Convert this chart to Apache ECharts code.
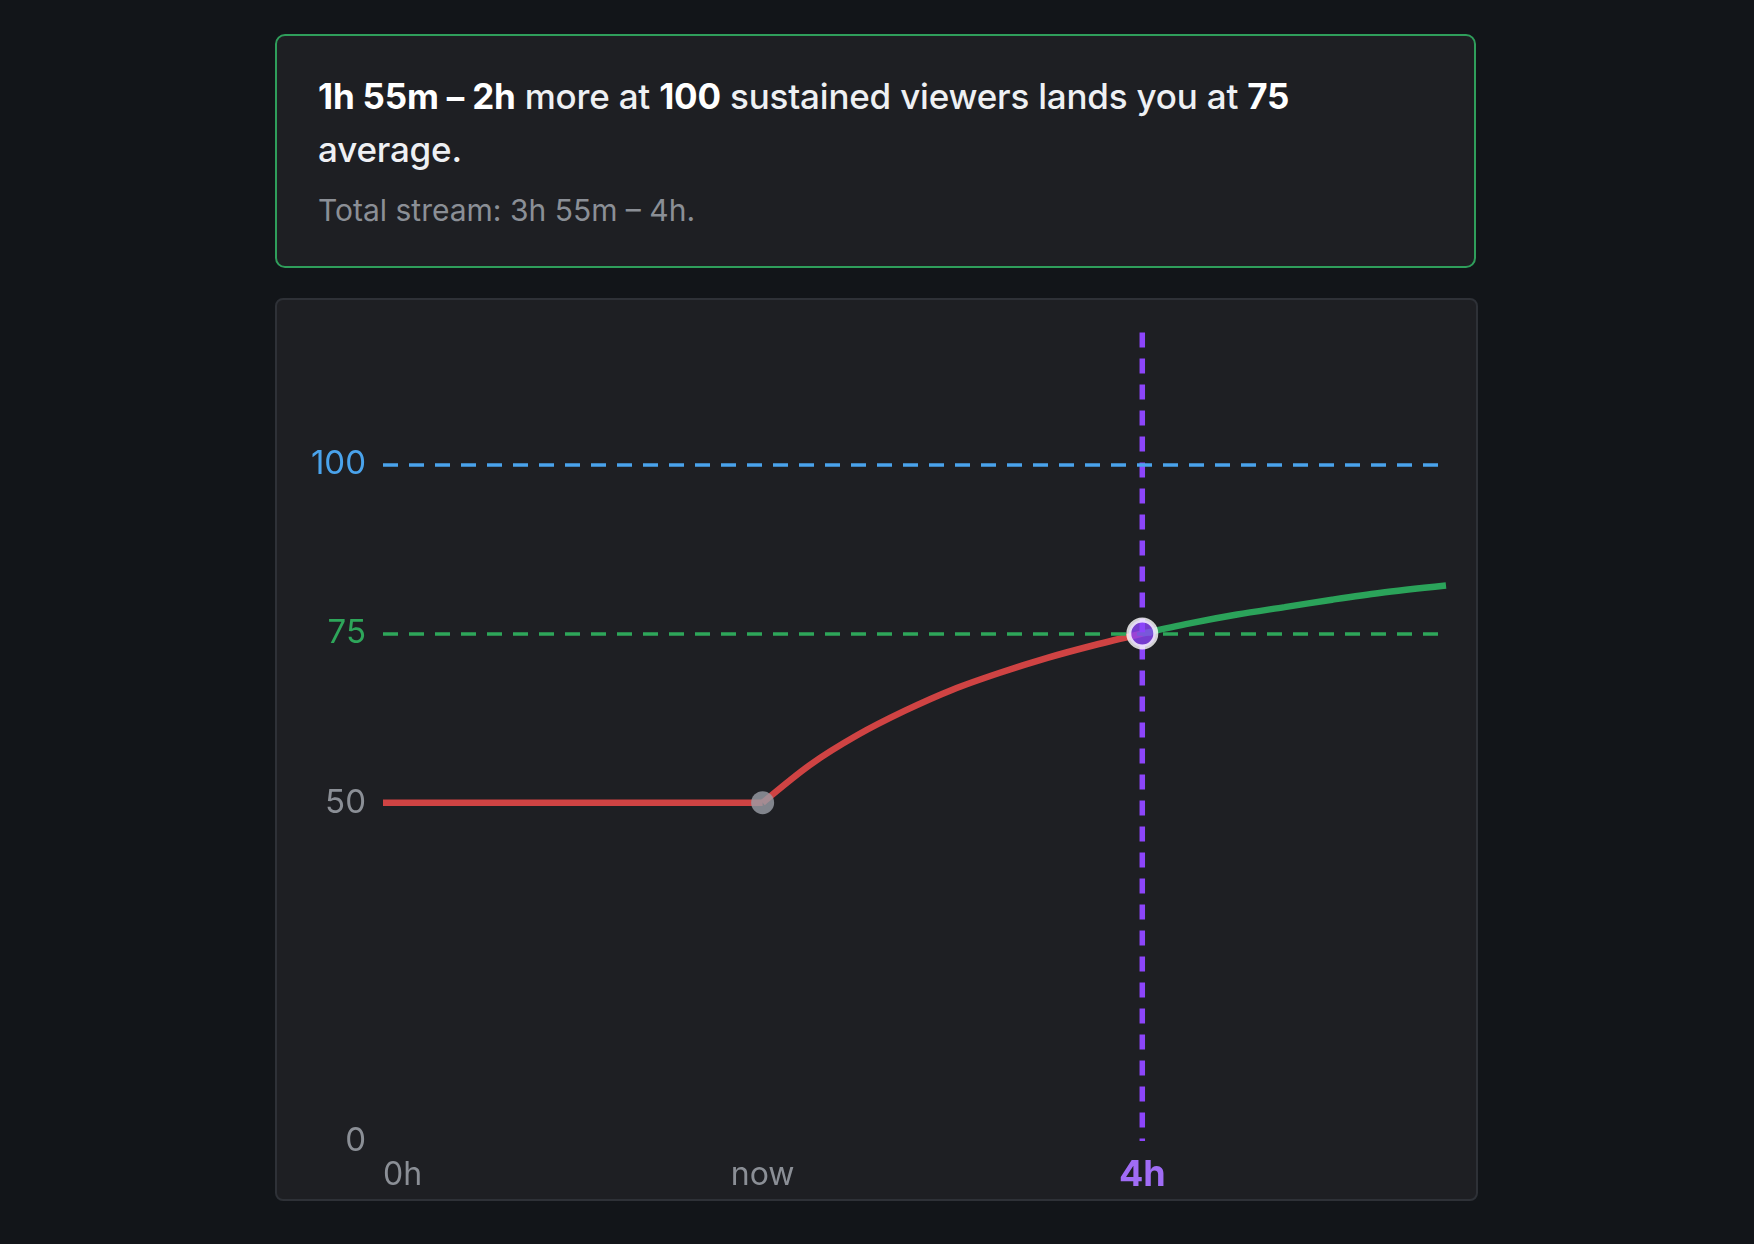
<!DOCTYPE html>
<html>
<head>
<meta charset="utf-8">
<script src="https://cdn.jsdelivr.net/npm/echarts@6/dist/echarts.min.js"></script>
<style>
  html, body { margin: 0; padding: 0; background: #121519; width: 1754px; height: 1244px; overflow: hidden; }
  body { font-family: Inter, "Noto Sans", sans-serif; }
  .card {
    position: absolute; box-sizing: border-box; background: #1e1f23;
  }
  #summary {
    left: 275px; top: 34px; width: 1201px; height: 234px;
    border: 2px solid #2f9e5b; border-radius: 10px;
    padding: 34px 0 0 41px; color: #eef0f3;
  }
  #summary .head { font-size: 35px; line-height: 53px; letter-spacing: -0.2px; font-weight: 500; }
  #summary b { font-weight: 700; color: #ffffff; }
  #summary .sub { font-size: 30px; color: #8b8f96; margin-top: 16px; }
  #chartCard {
    left: 275px; top: 298px; width: 1203px; height: 903px;
    border: 2px solid #2e3137; border-radius: 8px;
  }
  #mapDiv { width: 1199px; height: 899px; }
</style>
</head>
<body>
<div class="card" id="summary">
  <div class="head"><b>1h 55m – 2h</b> more at <b>100</b> sustained viewers lands you at <b>75</b><br>average.</div>
  <div class="sub">Total stream: 3h 55m – 4h.</div>
</div>
<div class="card" id="chartCard"><div id="mapDiv"></div></div>
<script>
// flat part: stream so far
var pastHours = [0, 2];
var pastAvg = [50, 50];
// projected average while streaming at 100 from now
var projHours = [2, 2.25, 2.5, 2.75, 3, 3.25, 3.5, 3.75, 4];
var projAvg = [50, 55.6, 60, 63.6, 66.7, 69.2, 71.4, 73.3, 75];
// beyond the target
var afterHours = [4, 4.25, 4.5, 4.75, 5, 5.25, 5.6];
var afterAvg = [75, 76.5, 77.8, 78.9, 80, 81, 82.1];
var nowHour = 2;
var targetHour = 4;
var targetAvg = 75;
var sustained = 100;
var currentAvg = 50;
var xLabels = { 0: '0h', 2: 'now', 4: '4h' };
var yLabels = { 0: '0', 50: '50', 75: '75', 100: '100' };

function pairs(xs, ys) {
    var out = [];
    for (var i = 0; i < xs.length; i++) out.push([xs[i], ys[i]]);
    return out;
}

var dom = document.getElementById("mapDiv");
var myChart = echarts.init(dom, null, { renderer: 'canvas' });

var font = 'Inter, "Noto Sans", sans-serif';

var option = {
    animation: false,
    backgroundColor: 'transparent',
    grid: { left: 106, right: 30, top: 29, bottom: 58 },
    xAxis: {
        type: 'value',
        min: 0,
        max: 5.6,
        interval: 2,
        axisLine: { show: false },
        axisTick: { show: false },
        splitLine: { show: false },
        axisLabel: {
            margin: 13,
            alignMinLabel: 'left',
            showMaxLabel: false,
            formatter: function (v) {
                var t = xLabels[v];
                if (!t) return '';
                return v === targetHour ? '{p|' + t + '}' : '{g|' + t + '}';
            },
            rich: {
                g: { color: '#8b8f96', fontSize: 32, lineHeight: 42, fontFamily: font },
                p: { color: '#a06cf5', fontSize: 36, lineHeight: 42, fontWeight: 'bold', fontFamily: font }
            }
        }
    },
    yAxis: {
        type: 'value',
        min: 0,
        max: 120,
        interval: 25,
        axisLine: { show: false },
        axisTick: { show: false },
        splitLine: { show: false },
        axisLabel: {
            margin: 17,
            showMaxLabel: false,
            formatter: function (v) {
                var t = yLabels[v];
                if (!t) return '';
                if (v === sustained) return '{b|' + t + '}';
                if (v === targetAvg) return '{gr|' + t + '}';
                return '{g|' + t + '}';
            },
            rich: {
                b: { color: '#4aa3ec', fontSize: 33, fontFamily: font },
                gr: { color: '#2ea65a', fontSize: 33, fontFamily: font },
                g: { color: '#8b8f96', fontSize: 33, fontFamily: font }
            }
        }
    },
    series: [
        {
            name: 'so far',
            type: 'line',
            data: pairs(pastHours, pastAvg),
            symbol: 'none',
            z: 3,
            lineStyle: { color: '#cf4343', width: 6.5 },
            markLine: {
                silent: true,
                symbol: 'none',
                label: { show: false },
                data: [
                    { yAxis: sustained, lineStyle: { color: '#4aa3ec', width: 3.5, type: [15, 11] } },
                    { yAxis: targetAvg, lineStyle: { color: '#2ea65a', width: 3.5, type: [15, 11] } }
                ]
            }
        },
        {
            name: 'projected',
            type: 'line',
            data: pairs(projHours, projAvg),
            smooth: 0.3,
            symbol: 'none',
            z: 3,
            lineStyle: { color: '#cf4343', width: 6.5 }
        },
        {
            name: 'after',
            type: 'line',
            data: pairs(afterHours, afterAvg),
            smooth: 0.3,
            symbol: 'none',
            z: 3,
            lineStyle: { color: '#2ba35a', width: 6.5 }
        },
        {
            // drawn top-down so the dash pattern starts at the top
            name: 'target',
            type: 'line',
            data: [[targetHour, 119.5], [targetHour, 0]],
            symbol: 'none',
            z: 4,
            lineStyle: { color: '#8c45fa', width: 5.5, type: [15, 11] }
        },
        {
            name: 'now',
            type: 'scatter',
            data: [[nowHour, currentAvg]],
            symbolSize: 23,
            z: 5,
            itemStyle: { color: '#9a9ea6' }
        },
        {
            name: 'reach',
            type: 'scatter',
            data: [[targetHour, targetAvg]],
            symbolSize: 27,
            z: 6,
            itemStyle: { color: '#8c45fa', borderColor: '#ffffff', borderWidth: 5 }
        }
    ]
};
myChart.setOption(option);
</script>
</body>
</html>
